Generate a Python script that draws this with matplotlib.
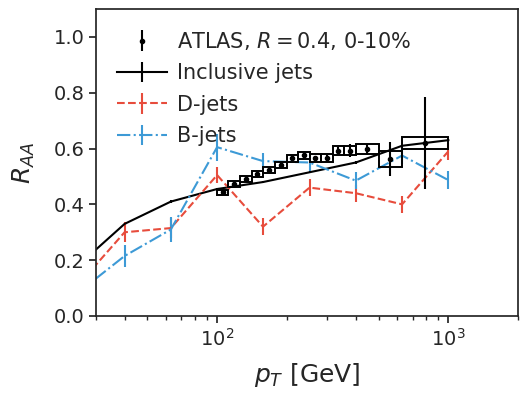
import numpy as np
import matplotlib
matplotlib.use("Agg")
import matplotlib.pyplot as plt

# ATLAS R=0.4, 0-10% data
atlas_edges = np.array([100, 112, 126, 141, 158, 178, 200, 224, 251, 282, 316, 355, 398, 501, 631, 1000])
atlas_raa = np.array([0.443, 0.472, 0.490, 0.508, 0.523, 0.541, 0.565, 0.576, 0.566, 0.566,
                      0.593, 0.593, 0.597, 0.563, 0.620])
atlas_stat = np.array([0.006, 0.006, 0.006, 0.006, 0.006, 0.007, 0.007, 0.008, 0.008, 0.010,
                       0.012, 0.025, 0.020, 0.060, 0.165])
atlas_syst = np.array([0.010, 0.010, 0.010, 0.010, 0.011, 0.012, 0.012, 0.013, 0.013, 0.014,
                       0.015, 0.016, 0.018, 0.030, 0.020])

# model curves
pt = np.array([25, 39.8, 63.1, 100, 158, 251, 398, 631, 1000])
incl = np.array([0.18, 0.33, 0.41, 0.455, 0.48, 0.515, 0.55, 0.61, 0.63])
incl_err = np.array([0.004, 0.004, 0.004, 0.004, 0.004, 0.004, 0.004, 0.004, 0.004])
djet = np.array([0.11, 0.30, 0.315, 0.505, 0.32, 0.46, 0.44, 0.40, 0.59])
djet_err = np.array([0.035, 0.035, 0.035, 0.03, 0.03, 0.03, 0.03, 0.03, 0.03])
bjet = np.array([0.083, 0.215, 0.31, 0.605, 0.555, 0.55, 0.485, 0.575, 0.487])
bjet_err = np.array([0.04, 0.04, 0.045, 0.048, 0.03, 0.03, 0.03, 0.03, 0.033])

plt.rcParams.update({
    "font.size": 14,
    "text.color": ".15",
    "axes.labelcolor": ".15",
    "axes.edgecolor": ".15",
    "axes.linewidth": 1.25,
    "xtick.color": ".15",
    "ytick.color": ".15",
    "xtick.direction": "out",
    "ytick.direction": "out",
})

fig = plt.figure(figsize=(5.2, 3.93), dpi=100)
ax = fig.add_axes([0.185, 0.196, 0.811, 0.781])

red = "#e74c3c"
blue = "#3d9ad6"

centers = np.sqrt(atlas_edges[:-1] * atlas_edges[1:])
ax.bar(atlas_edges[:-1], 2 * atlas_syst, width=np.diff(atlas_edges), bottom=atlas_raa - atlas_syst,
       align="edge", fill=False, edgecolor="k", linewidth=1.4, zorder=3)
ax.errorbar(centers, atlas_raa, yerr=atlas_stat, fmt="o", color="k", ms=3, elinewidth=1.5,
            zorder=4, label="ATLAS, $R=0.4$, 0-10%")

ax.errorbar(pt, incl, yerr=incl_err, color="k", lw=1.5, label="Inclusive jets", zorder=2)
ax.errorbar(pt, djet, yerr=djet_err, color=red, ls="--", lw=1.5, label="D-jets", zorder=2)
ax.errorbar(pt, bjet, yerr=bjet_err, color=blue, ls="-.", lw=1.5, label="B-jets", zorder=2)

ax.set_xscale("log")
ax.set_xlim(30, 2000)
ax.set_ylim(0, 1.1)
ax.set_yticks([0.0, 0.2, 0.4, 0.6, 0.8, 1.0])
ax.tick_params(which="major", length=5, width=1.25)
ax.tick_params(which="minor", length=3, width=1.0)
ax.set_xlabel("$p_T$ [GeV]", fontsize=18, labelpad=8)
ax.set_ylabel("$R_{AA}$", fontsize=18, labelpad=12)

ax.legend(loc="upper left", frameon=False, fontsize=15, borderaxespad=0.6,
          handlelength=2.4, handletextpad=0.5, labelspacing=0.55)

fig.savefig("out.png", dpi=100)
